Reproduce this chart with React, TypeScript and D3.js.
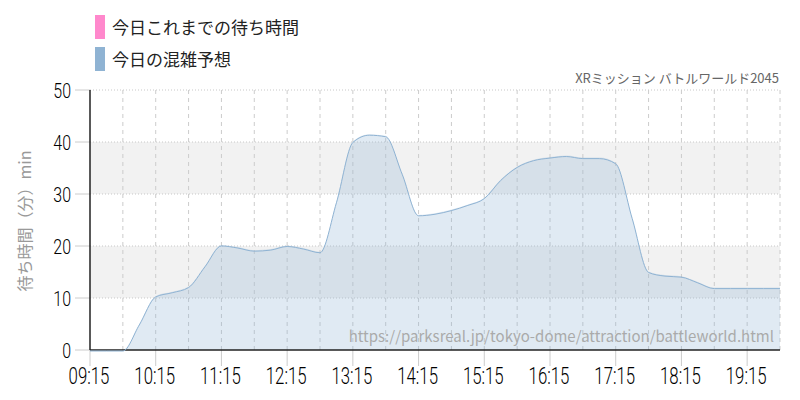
import React from "react";
import * as d3 from "d3";

const times: string[] = [
  "09:15","09:30","09:45","10:00","10:15","10:30","10:45","11:00","11:15","11:30","11:45",
  "12:00","12:15","12:30","12:45","13:00","13:15","13:30","13:45","14:00","14:15","14:30",
  "14:45","15:00","15:15","15:30","15:45","16:00","16:15","16:30","16:45","17:00","17:15",
  "17:30","17:45","18:00","18:15","18:30","18:45","19:00","19:15","19:30","19:45",
];
const forecast: number[] = [
  0, 0, 0, 5, 10.4, 11.2, 12.2, 16.2, 20.2, 19.8, 19.2,
  19.4, 20.1, 19.6, 18.9, 28.5, 40.1, 41.5, 41.2, 34, 26, 26.3,
  27, 28, 29.3, 32.8, 35.3, 36.6, 37.1, 37.4, 37.0, 37.0, 36,
  25.5, 15.1, 14.4, 14.2, 13.1, 12, 12, 12, 12, 12,
];
const xTickLabels: string[] = ["09:15","10:15","11:15","12:15","13:15","14:15","15:15","16:15","17:15","18:15","19:15"];
const yTicks: number[] = [0, 10, 20, 30, 40, 50];
const legendLabels: string[] = ["今日これまでの待ち時間", "今日の混雑予想"];
const legendColors: string[] = ["#ff88cc", "#8fb3d3"];
const title = "XRミッション バトルワールド2045";
const yTitle = "待ち時間（分）min";
const watermark = "https://parksreal.jp/tokyo-dome/attraction/battleworld.html";

const toMin = (t: string) => {
  const [h, m] = t.split(":").map(Number);
  return h * 60 + m - (9 * 60 + 15);
};

export default function App() {
  const W = 800, H = 400;
  const left = 90, right = 780, top = 90, bottom = 350;
  const x = d3.scaleLinear().domain([0, 630]).range([left, right]);
  const y = d3.scaleLinear().domain([0, 50]).range([bottom, top]);
  const data = times.map((t, i) => ({ m: toMin(t), v: forecast[i] }));
  const area = d3.area<{ m: number; v: number }>()
    .x(d => x(d.m)).y0(y(0)).y1(d => y(d.v)).curve(d3.curveMonotoneX);
  const line = d3.line<{ m: number; v: number }>()
    .x(d => x(d.m)).y(d => y(d.v)).curve(d3.curveMonotoneX);
  const halfHours = d3.range(30, 631, 30);
  const numFont = "Roboto, sans-serif";
  const jpFont = "'Noto Sans CJK JP', sans-serif";
  const bands = [[10, 20], [30, 40]];
  return (
    <svg width={W} height={H} style={{ position: "absolute", left: 0, top: 0 }}>
      <rect width={W} height={H} fill="#fff" />
      {bands.map(([a, b], i) => (
        <rect key={i} x={left} y={y(b)} width={right - left} height={y(a) - y(b)} fill="#f2f2f2" />
      ))}
      {yTicks.filter(v => v > 0).map(v => (
        <line key={v} x1={left} x2={right} y1={y(v)} y2={y(v)} stroke="#c8c8c8" strokeDasharray="1,2" />
      ))}
      {halfHours.map(m => (
        <line key={m} x1={x(m)} x2={x(m)} y1={top} y2={bottom} stroke="#cccccc" strokeDasharray="4,4" />
      ))}
      {xTickLabels.map(t => (
        <line key={t} x1={x(toMin(t))} x2={x(toMin(t))} y1={bottom} y2={bottom + 16} stroke="#cccccc" />
      ))}
      {yTicks.map(v => (
        <line key={v} x1={left - 15} x2={left} y1={y(v)} y2={y(v)} stroke="#cccccc" />
      ))}
      <path d={area(data) || ""} fill="#8fb3d3" fillOpacity={0.28} />
      <line x1={left} x2={right} y1={bottom} y2={bottom} stroke="#222" strokeWidth={1.5} />
      <line x1={left} x2={left} y1={top} y2={bottom} stroke="#222" strokeWidth={1.5} />
      <path d={line(data) || ""} fill="none" stroke="#8fb3d3" strokeWidth={1} transform="translate(0,1)" />
      {yTicks.map(v => (
        <text key={v} transform={`translate(${left - 19},${y(v) + 8}) scale(0.76,1)`} textAnchor="end" fontFamily={numFont} fontWeight={300} fontSize={21} fill="#000">{v}</text>
      ))}
      {xTickLabels.map(t => (
        <text key={t} transform={`translate(${x(toMin(t)) - 1},384) scale(0.7,1)`} textAnchor="middle" fontFamily={numFont} fontWeight={300} fontSize={24} fill="#000">{t}</text>
      ))}
      <text transform={`translate(31,221) rotate(-90)`} textAnchor="middle" fontFamily={jpFont} fontSize={16} fill="#999">{yTitle}</text>
      <text x={779} y={83} textAnchor="end" fontFamily={jpFont} fontSize={13} fill="#666">{title}</text>
      <text x={774} y={342} textAnchor="end" fontFamily={jpFont} fontSize={15} fill="#aaa">{watermark}</text>
      {legendLabels.map((l, i) => (
        <g key={l}>
          <rect x={95} y={15 + i * 32} width={10} height={24} fill={legendColors[i]} />
          <text x={112} y={34 + i * 32} fontFamily={jpFont} fontSize={17} fill="#222">{l}</text>
        </g>
      ))}
    </svg>
  );
}
